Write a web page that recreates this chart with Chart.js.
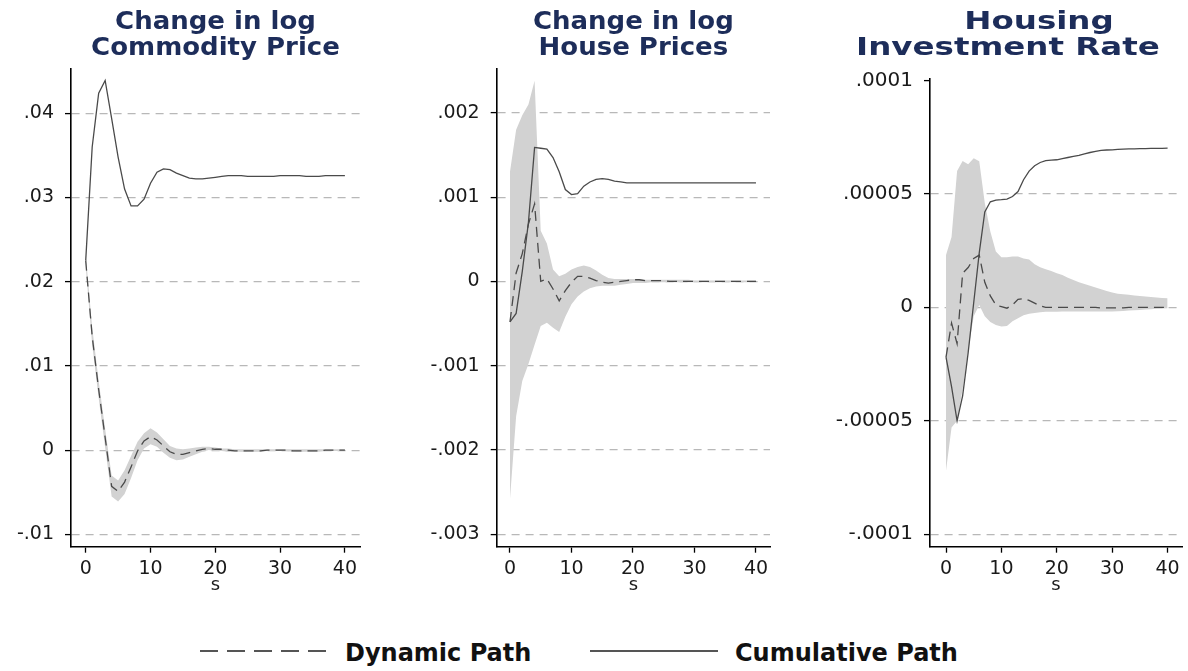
<!DOCTYPE html>
<html>
<head>
<meta charset="utf-8">
<script src="https://cdn.jsdelivr.net/npm/chart.js@4.4.1/dist/chart.umd.min.js"></script>
<style>
    html, body { margin: 0; padding: 0; background: #fff; overflow: hidden; }
    body { width: 1188px; height: 671px; position: relative; font-family: 'DejaVu Sans', sans-serif; }
    canvas { position: absolute; top: 0; }
    .legend { position: absolute; top: 638px; left: 0; width: 1188px; height: 34px; }
    .legend svg { position: absolute; top: 10px; }
    .legend span { position: absolute; top: 1px; font-size: 24px; font-weight: bold; color: #111; white-space: nowrap; }
</style>
</head>
<body>
<canvas id="panel1" style="left:0px" width="380" height="600"></canvas>
<canvas id="panel2" style="left:415px" width="375" height="600"></canvas>
<canvas id="panel3" style="left:825px" width="367" height="600"></canvas>

<div class="legend">
    <svg style="left:200px" width="128" height="6"><line x1="0" y1="3" x2="128" y2="3" stroke="#555" stroke-width="2.2" stroke-dasharray="18,9"/></svg>
    <span style="left:345px">Dynamic Path</span>
    <svg style="left:590px" width="128" height="6"><line x1="0" y1="3" x2="128" y2="3" stroke="#555" stroke-width="2.2"/></svg>
    <span style="left:735px">Cumulative Path</span>
</div>

<script>
// horizon (s)
const steps = [0, 1, 2, 3, 4, 5, 6, 7, 8, 9, 10, 11, 12, 13, 14, 15, 16, 17, 18, 19, 20,
    21, 22, 23, 24, 25, 26, 27, 28, 29, 30, 31, 32, 33, 34, 35, 36, 37, 38, 39, 40];
const xTicks = [0, 10, 20, 30, 40];

// Change in log Commodity Price
const commodityDynamic = [0.0225, 0.0135, 0.0072, 0.0015, -0.0043, -0.0049, -0.0038, -0.0020, -0.0001, 0.0011,
    0.0016, 0.0012, 0.0005, -0.0002, -0.0005, -0.0005, -0.0003, -0.0001, 0.0001, 0.0002,
    0.0001, 0.0001, 0.0000, -0.0001, -0.0001, -0.0001, -0.0001, -0.0001, 0.0000, 0.0000,
    0.0000, 0.0000, -0.0001, -0.0001, -0.0001, -0.0001, -0.0001, 0.0000, 0.0000, 0.0000, 0.0000];
const commodityCumulative = [0.0225, 0.0360, 0.0424, 0.0439, 0.0394, 0.0348, 0.0310, 0.0290, 0.0290, 0.0298,
    0.0317, 0.0330, 0.0334, 0.0333, 0.0329, 0.0326, 0.0323, 0.0322, 0.0322, 0.0323,
    0.0324, 0.0325, 0.0326, 0.0326, 0.0326, 0.0325, 0.0325, 0.0325, 0.0325, 0.0325,
    0.0326, 0.0326, 0.0326, 0.0326, 0.0325, 0.0325, 0.0325, 0.0326, 0.0326, 0.0326, 0.0326];
const commodityLower = [0.0218, 0.0125, 0.0062, 0.0003, -0.0055, -0.0061, -0.0052, -0.0033, -0.0012, 0.0002,
    0.0007, 0.0004, -0.0003, -0.0009, -0.0012, -0.0011, -0.0008, -0.0005, -0.0002, 0.0000,
    -0.0001, -0.0001, -0.0002, -0.0002, -0.0002, -0.0002, -0.0002, -0.0002, -0.0001, -0.0001,
    -0.0001, -0.0001, -0.0002, -0.0002, -0.0002, -0.0002, -0.0002, -0.0001, -0.0001, -0.0001, -0.0001];
const commodityUpper = [0.0232, 0.0146, 0.0082, 0.0025, -0.0030, -0.0036, -0.0024, -0.0007, 0.0010, 0.0020,
    0.0026, 0.0021, 0.0013, 0.0005, 0.0002, 0.0001, 0.0002, 0.0003, 0.0004, 0.0004,
    0.0003, 0.0002, 0.0002, 0.0001, 0.0001, 0.0001, 0.0001, 0.0001, 0.0001, 0.0001,
    0.0001, 0.0001, 0.0001, 0.0001, 0.0001, 0.0001, 0.0001, 0.0001, 0.0001, 0.0001, 0.0001];
const commodityTicks = [-0.01, 0, 0.01, 0.02, 0.03, 0.04];
const commodityTickLabels = ['-.01', '0', '.01', '.02', '.03', '.04'];

// Change in log House Prices
const houseDynamic = [-0.00048, 0.00010, 0.00033, 0.00068, 0.00092, 0.00000, 0.00003, -0.00009, -0.00023, -0.00011,
    -0.00001, 0.00006, 0.00006, 0.00004, 0.00001, -0.00001, -0.00002, -0.00001, 0.00000, 0.00001,
    0.00002, 0.00002, 0.00001, 0.00001, 0.00001, 0.00001, 0.00000, 0.00000, 0.00000, 0.00000,
    0.00000, 0.00000, 0.00000, 0.00000, 0.00000, 0.00000, 0.00000, 0.00000, 0.00000, 0.00000, 0.00000];
const houseCumulative = [-0.00048, -0.00038, 0.00012, 0.00070, 0.00159, 0.00158, 0.00157, 0.00147, 0.00130, 0.00109,
    0.00103, 0.00104, 0.00113, 0.00118, 0.00121, 0.00122, 0.00121, 0.00119, 0.00118, 0.00117,
    0.00117, 0.00117, 0.00117, 0.00117, 0.00117, 0.00117, 0.00117, 0.00117, 0.00117, 0.00117,
    0.00117, 0.00117, 0.00117, 0.00117, 0.00117, 0.00117, 0.00117, 0.00117, 0.00117, 0.00117, 0.00117];
const houseLower = [-0.00258, -0.00160, -0.00118, -0.00098, -0.00075, -0.00053, -0.00049, -0.00055, -0.00060, -0.00042,
    -0.00027, -0.00018, -0.00012, -0.00008, -0.00006, -0.00005, -0.00005, -0.00005, -0.00004, -0.00003,
    -0.00002, -0.00002, -0.00002, -0.00001, -0.00001, -0.00001, -0.00001, -0.00001, -0.00001, -0.00001,
    -0.00001, -0.00001, -0.00001, -0.00001, -0.00001, -0.00001, -0.00001, -0.00001, -0.00001, -0.00001, -0.00001];
const houseUpper = [0.00130, 0.00180, 0.00197, 0.00210, 0.00238, 0.00060, 0.00045, 0.00014, 0.00006, 0.00009,
    0.00014, 0.00017, 0.00019, 0.00017, 0.00013, 0.00008, 0.00004, 0.00003, 0.00003, 0.00003,
    0.00003, 0.00003, 0.00002, 0.00002, 0.00002, 0.00002, 0.00002, 0.00002, 0.00002, 0.00002,
    0.00001, 0.00001, 0.00001, 0.00001, 0.00001, 0.00001, 0.00001, 0.00001, 0.00001, 0.00001, 0.00001];
const houseTicks = [-0.003, -0.002, -0.001, 0, 0.001, 0.002];
const houseTickLabels = ['-.003', '-.002', '-.001', '0', '.001', '.002'];

// Housing Investment Rate
const investDynamic = [-0.000022, -0.000007, -0.000016, 0.000015, 0.0000175, 0.0000215, 0.000023, 0.000011, 0.000005, 0.000001,
    0.0000003, -0.0000004, 0.000001, 0.0000035, 0.0000038, 0.000003, 0.0000018, 0.0000006, 0.0, 0.0,
    0.0, 0.0, 0.0, 0.0, 0.0, 0.0, 0.0, 0.0, -0.0000003, -0.0000003,
    -0.0000003, -0.0000003, -0.0000003, 0.0, 0.0, 0.0, 0.0, 0.0, 0.0, 0.0, 0.0];
const investCumulative = [-0.000022, -0.000035, -0.000050, -0.000039, -0.000020, 0.000002, 0.000024, 0.000042, 0.0000465, 0.0000472,
    0.0000474, 0.0000477, 0.0000488, 0.000051, 0.0000562, 0.000060, 0.0000624, 0.0000638, 0.0000646, 0.0000648,
    0.000065, 0.0000655, 0.000066, 0.0000665, 0.0000669, 0.0000676, 0.0000682, 0.0000687, 0.0000691, 0.0000693,
    0.0000694, 0.0000696, 0.0000697, 0.0000698, 0.0000698, 0.0000699, 0.0000699, 0.000070, 0.000070, 0.000070, 0.0000701];
const investLower = [-0.000072, -0.000053, -0.000050, -0.000036, -0.000019, -0.000004, 0.000001, -0.000004, -0.0000065, -0.0000078,
    -0.0000085, -0.0000082, -0.0000062, -0.0000048, -0.0000035, -0.0000028, -0.0000025, -0.0000022, -0.000002, -0.000002,
    -0.000002, -0.0000019, -0.0000019, -0.0000019, -0.0000019, -0.0000019, -0.0000019, -0.0000019, -0.0000019, -0.0000019,
    -0.0000019, -0.0000017, -0.0000016, -0.0000014, -0.0000013, -0.0000012, -0.000001, -0.0000009, -0.0000007, -0.0000005, -0.0000004];
const investUpper = [0.000023, 0.000031, 0.000060, 0.0000645, 0.000063, 0.0000657, 0.0000643, 0.000046, 0.0000334, 0.0000246,
    0.000022, 0.000022, 0.0000224, 0.0000224, 0.0000215, 0.000021, 0.000019, 0.0000176, 0.0000168, 0.000016,
    0.000015, 0.0000142, 0.000013, 0.000012, 0.000011, 0.0000103, 0.0000095, 0.0000087, 0.000008, 0.0000072,
    0.0000065, 0.000006, 0.0000057, 0.0000055, 0.0000052, 0.000005, 0.0000048, 0.0000045, 0.0000043, 0.0000041, 0.000004];
const investTicks = [-0.0001, -0.00005, 0, 0.00005, 0.0001];
const investTickLabels = ['-.0001', '-.00005', '0', '.00005', '.0001'];

Chart.defaults.font.family = "'DejaVu Sans', sans-serif";
Chart.defaults.color = '#1a1a1a';

const TITLE_COLOR = '#1d2d5a';
const LINE_COLOR = '#4a4a4a';
const BAND_COLOR = '#d2d2d2';
const GRID_COLOR = '#b8b8b8';

// two-line panel title drawn on the chart canvas; the third title is set wider in the source
const panelTitle = {
    id: 'panelTitle',
    afterDraw(chart, args, opts) {
        const { ctx, chartArea } = chart;
        opts.lines.forEach((text, i) => {
            const x = opts.centers ? opts.centers[i] : (chartArea.left + chartArea.right) / 2;
            ctx.save();
            ctx.translate(x, opts.lineY[i]);
            ctx.scale(opts.stretch, 1);
            ctx.font = "bold 25px 'DejaVu Sans'";
            ctx.fillStyle = TITLE_COLOR;
            ctx.textAlign = 'center';
            ctx.textBaseline = 'middle';
            ctx.fillText(text, 0, 0);
            ctx.restore();
        });
    }
};

function buildPanel(canvasId, cfg) {
    const ctx = document.getElementById(canvasId).getContext('2d');

    return new Chart(ctx, {
        type: 'line',
        data: {
            labels: steps,
            datasets: [
                { label: 'Dynamic Path', data: cfg.dynamic, borderColor: LINE_COLOR, borderWidth: 1.3, borderDash: [10, 6], pointRadius: 0, fill: false },
                { label: 'Cumulative Path', data: cfg.cumulative, borderColor: LINE_COLOR, borderWidth: 1.3, pointRadius: 0, fill: false },
                { label: 'lower', data: cfg.lower, borderWidth: 0, pointRadius: 0, fill: false },
                { label: 'upper', data: cfg.upper, borderWidth: 0, pointRadius: 0, backgroundColor: BAND_COLOR, fill: '-1' }
            ]
        },
        plugins: [panelTitle],
        options: {
            responsive: false,
            animation: false,
            events: [],
            layout: { padding: { left: 0, right: cfg.padRight, top: cfg.padTop, bottom: 0 } },
            plugins: {
                legend: { display: false },
                tooltip: { enabled: false },
                filler: { drawTime: 'beforeDatasetsDraw' },
                panelTitle: { lines: cfg.title, lineY: [22, 48], centers: cfg.titleCenters, stretch: cfg.titleStretch }
            },
            scales: {
                x: {
                    type: 'linear',
                    min: cfg.xMin, max: cfg.xMax,
                    afterBuildTicks: s => { s.ticks = xTicks.map(v => ({ value: v })); },
                    afterFit: s => { s.height = 53.3; },
                    grid: { drawOnChartArea: false, drawTicks: true, tickLength: 6, tickColor: '#000', tickWidth: 1.3 },
                    border: { display: true, color: '#000', width: 1.6 },
                    ticks: { font: { size: 19 }, padding: 5, maxRotation: 0, color: '#1a1a1a' },
                    title: { display: true, text: 's', font: { size: 18 }, padding: { top: 0, bottom: 4 }, color: '#1a1a1a' }
                },
                y: {
                    min: cfg.yMin, max: cfg.yMax,
                    afterBuildTicks: s => { s.ticks = cfg.yTicks.map(v => ({ value: v })); },
                    afterFit: s => { s.width = cfg.yAxisWidth; },
                    grid: {
                        color: c => (cfg.noGridAt !== undefined && c.tick && Math.abs(c.tick.value - cfg.noGridAt) < 1e-12) ? 'rgba(0,0,0,0)' : GRID_COLOR,
                        lineWidth: 1.2, drawTicks: true, tickLength: 6, tickColor: '#000', tickWidth: 1.3
                    },
                    border: { display: true, color: '#000', width: 1.6, dash: [8, 6] },
                    ticks: {
                        font: { size: cfg.yTickSize }, padding: 11, color: '#1a1a1a',
                        callback: (v, i) => cfg.yTickLabels[i]
                    }
                }
            }
        }
    });
}

buildPanel('panel1', {
    title: ['Change in log', 'Commodity Price'], titleStretch: 1.04,
    dynamic: commodityDynamic, cumulative: commodityCumulative, lower: commodityLower, upper: commodityUpper,
    yTicks: commodityTicks, yTickLabels: commodityTickLabels, yTickSize: 19,
    yMin: -0.01147, yMax: 0.04526, xMin: -2.27, xMax: 42.33,
    yAxisWidth: 71, padRight: 20, padTop: 69
});

buildPanel('panel2', {
    title: ['Change in log', 'House Prices'], titleStretch: 1.04,
    dynamic: houseDynamic, cumulative: houseCumulative, lower: houseLower, upper: houseUpper,
    yTicks: houseTicks, yTickLabels: houseTickLabels, yTickSize: 19,
    yMin: -0.003147, yMax: 0.00252, xMin: -2.16, xMax: 42.28,
    yAxisWidth: 81.7, padRight: 20, padTop: 69
});

buildPanel('panel3', {
    title: ['Housing', 'Investment Rate'], titleStretch: 1.3, titleCenters: [214, 183],
    dynamic: investDynamic, cumulative: investCumulative, lower: investLower, upper: investUpper,
    yTicks: investTicks, yTickLabels: investTickLabels, yTickSize: 20, noGridAt: 0.0001,
    yMin: -0.0001055, yMax: 0.0001009, xMin: -2.89, xMax: 42.6,
    yAxisWidth: 105, padRight: 10, padTop: 78.3
});
</script>
</body>
</html>
